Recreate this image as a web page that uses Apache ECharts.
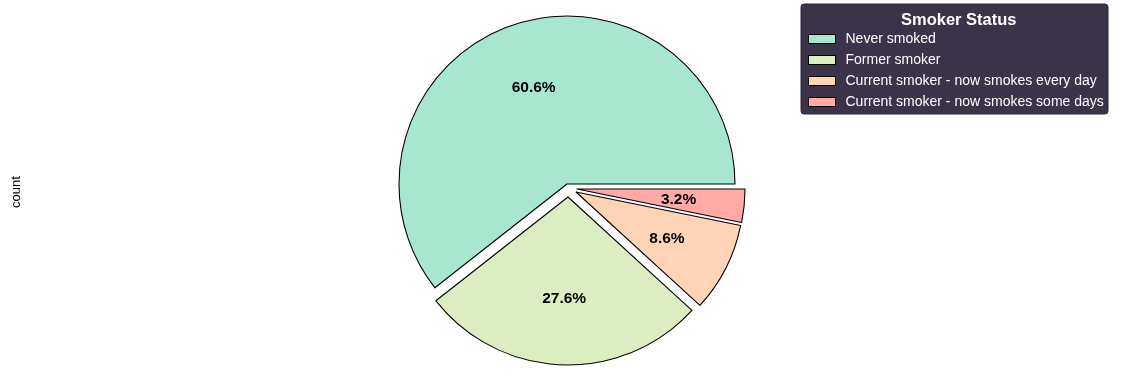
<!DOCTYPE html>
<html><head><meta charset="utf-8">
<script src="https://cdn.jsdelivr.net/npm/echarts@6/dist/echarts.min.js"></script>
<style>html,body{margin:0;padding:0;background:#fff}#c{width:1124px;height:387px}</style>
</head><body><div id="c"></div>
<script>
const categories = ['Never smoked', 'Former smoker', 'Current smoker - now smokes every day', 'Current smoker - now smokes some days'];
const values = [60.6, 27.6, 8.6, 3.2];
const colors = ['#a8e6cf', '#dcedc1', '#ffd3b6', '#ffaaa5'];
const legendTitle = 'Smoker Status';
const yLabel = 'count';

const FONT = '"Liberation Sans", Arial, sans-serif';
const R = 168;
const CX = 567, CY = 184;
// per-slice displacement (explode) in pixels, as seen in the reference
const SHIFT = [[0, 0], [1, 13], [9, 8], [10, 5]];
const PCT_DIST = 0.59;

const total = values.reduce((a, b) => a + b, 0);
const TRANSPARENT = 'rgba(0,0,0,0)';

const series = [];
categories.forEach((name, k) => {
  const center = [CX + SHIFT[k][0], CY + SHIFT[k][1]];
  series.push({
    type: 'pie', center, radius: [0, R], startAngle: 0, clockwise: false,
    avoidLabelOverlap: false, silent: true, selectedMode: false,
    label: { show: false }, labelLine: { show: false },
    emphasis: { disabled: true, scale: false },
    data: categories.map((n, i) => ({
      name: n, value: values[i],
      itemStyle: i === k
        ? { color: colors[i], borderColor: '#000', borderWidth: 1.1 }
        : { color: TRANSPARENT, borderWidth: 0 }
    }))
  });
  series.push({
    type: 'pie', center, radius: [R * (2 * PCT_DIST - 1), R], startAngle: 0, clockwise: false,
    avoidLabelOverlap: false, silent: true, selectedMode: false,
    itemStyle: { color: TRANSPARENT, borderWidth: 0 },
    emphasis: { disabled: true, scale: false },
    labelLine: { show: false },
    data: categories.map((n, i) => ({
      name: n, value: values[i],
      label: {
        show: i === k, position: 'inside', color: '#000', fontFamily: FONT,
        fontSize: 15.5, fontWeight: 'bold',
        formatter: p => (p.value / total * 100).toFixed(1) + '%'
      }
    }))
  });
});

const chart = echarts.init(document.getElementById('c'), null, { renderer: 'canvas' });
chart.setOption({
  animation: false,
  title: {
    text: legendTitle, left: 896, top: 7,
    textStyle: { color: '#fff', fontFamily: FONT, fontSize: 16.5, fontWeight: 'bold' }
  },
  graphic: [
    { type: 'rect', z: -1, shape: { x: 801, y: 4, width: 307, height: 110, r: 3 },
      style: { fill: '#3b3448', stroke: '#2c2638', lineWidth: 1 } },
    { type: 'text', x: 16, y: 192, rotation: Math.PI / 2,
      style: { text: yLabel, fontFamily: FONT, fontSize: 13, fill: '#000', align: 'center', verticalAlign: 'middle' } }
  ],
  legend: {
    orient: 'vertical', left: 808, top: 31, padding: 0,
    itemWidth: 27, itemHeight: 9, itemGap: 5, icon: 'rect',
    data: categories.map((n, i) => ({
      name: n, icon: 'rect',
      itemStyle: { color: colors[i], borderColor: '#000', borderWidth: 1 }
    })),
    textStyle: { color: '#fff', fontFamily: FONT, fontSize: 14, lineHeight: 16, padding: [0, 0, 0, 5] },
    selectedMode: false
  },
  series
});
</script></body></html>
